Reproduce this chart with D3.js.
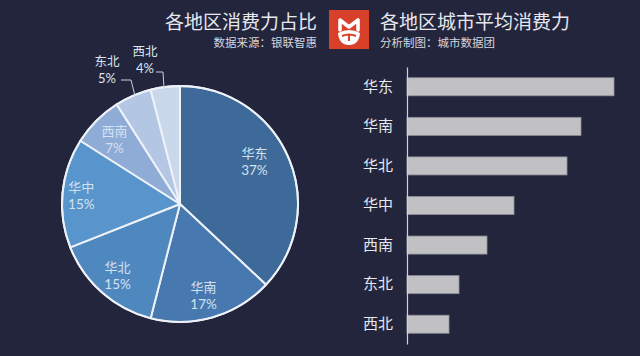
<!DOCTYPE html>
<html><head><meta charset="utf-8">
<script src="https://cdn.jsdelivr.net/npm/d3@7/dist/d3.min.js"></script>
<style>
html,body{margin:0;padding:0;background:#23253d;}
svg{display:block;font-family:"Noto Sans CJK SC","Noto Sans",sans-serif;}
</style></head>
<body>
<svg id="c" width="640" height="356"></svg>
<script>
const pieCategories = ["华东","华南","华北","华中","西南","东北","西北"];
const pieShares = [37,17,15,15,7,5,4];
const pieColors = ["#3e6a99","#4779b0","#4f87bf","#5895cc","#8facd6","#b3c7e4","#cad8ec"];
const barCategories = ["华东","华南","华北","华中","西南","东北","西北"];
const barValues = [207,174,160,107,80,52,42];

const svg = d3.select("#c");
svg.append("rect").attr("width",640).attr("height",356).attr("fill","#23253d");

// Titles
svg.append("text").attr("x",317).attr("y",29).attr("text-anchor","end")
  .attr("fill","#e6e8ef").attr("font-size",19).text("各地区消费力占比");
svg.append("text").attr("x",317).attr("y",47).attr("text-anchor","end")
  .attr("fill","#d4d6de").attr("font-size",11.5).text("数据来源：银联智惠");
svg.append("text").attr("x",380).attr("y",29).attr("text-anchor","start")
  .attr("fill","#e6e8ef").attr("font-size",19).text("各地区城市平均消费力");
svg.append("text").attr("x",380).attr("y",47).attr("text-anchor","start")
  .attr("fill","#d4d6de").attr("font-size",11.5).text("分析制图：城市数据团");

// Logo
const logo = svg.append("g").attr("transform","translate(329,10)");
logo.append("rect").attr("width",40).attr("height",39).attr("fill","#d8402a");
logo.append("path").attr("fill","none").attr("stroke","#fff").attr("stroke-width",3.6)
  .attr("stroke-linejoin","round").attr("stroke-linecap","round")
  .attr("d","M11,20 L11,10 L20,17 L29,10 L29,20");
logo.append("path").attr("fill","#fff")
  .attr("d","M9,23 Q20,17 31,23 Q30,35 20,35 Q10,35 9,23 Z");
logo.append("path").attr("fill","none").attr("stroke","#d8402a").attr("stroke-width",2)
  .attr("d","M13,26 Q20,23 27,26 M20,25 L20,31");

// Pie
const cx = 180, cy = 204, R = 118;
const pie = d3.pie().sort(null).value(d=>d)(pieShares);
const arc = d3.arc().innerRadius(0).outerRadius(R);
const pg = svg.append("g").attr("transform",`translate(${cx},${cy})`);
pg.selectAll("path.s").data(pie).join("path").attr("class","s")
  .attr("d",arc).attr("fill",(d,i)=>pieColors[i])
  .attr("stroke","#eef2f8").attr("stroke-width",2).attr("stroke-linejoin","round");
pg.append("circle").attr("r",R).attr("fill","none").attr("stroke","#eef2f8").attr("stroke-width",1.8);

const labelR = [0.73,0.80,0.80,0.84,0.785];
const labelShift = [-0.12,0.03,0,0,0];
pie.forEach((d,i)=>{
  if(i<5){
    const a=(d.startAngle+d.endAngle)/2+labelShift[i], r=R*labelR[i];
    const x=Math.sin(a)*r, y=-Math.cos(a)*r;
    pg.append("text").attr("text-anchor","middle").attr("fill","#d3e1f0").attr("font-size",13)
      .attr("x",x).attr("y",y-3).text(pieCategories[i]);
    pg.append("text").attr("text-anchor","middle").attr("fill","#d3e1f0").attr("font-size",13.5)
      .attr("font-family","Lato, sans-serif")
      .attr("x",x).attr("y",y+14).text(pieShares[i]+"%");
  }
});
// outside labels with leader lines
const outside = [
  {i:5, tx:107, ty:66, lx:[121,131,135], ly:[80,80,96]},
  {i:6, tx:145, ty:56, lx:[156,163,164], ly:[72,72,88]}
];
outside.forEach(o=>{
  svg.append("text").attr("text-anchor","middle").attr("fill","#dbe5f1").attr("font-size",12.5)
    .attr("x",o.tx).attr("y",o.ty).text(pieCategories[o.i]);
  svg.append("text").attr("text-anchor","middle").attr("fill","#dbe5f1").attr("font-size",13)
    .attr("font-family","Lato, sans-serif")
    .attr("x",o.tx).attr("y",o.ty+17).text(pieShares[o.i]+"%");
  svg.append("path").attr("fill","none").attr("stroke","#c9cfdc").attr("stroke-width",1)
    .attr("d",d3.line()(o.lx.map((x,k)=>[x,o.ly[k]])));
});

// Bars
const x0 = 407;
const xs = d3.scaleLinear().domain([0,207]).range([x0,614]);
const ys = d3.scaleBand().domain(barCategories).range([67,344]).paddingInner(0.544).paddingOuter(0.272);
svg.selectAll("rect.b").data(barValues).join("rect").attr("class","b")
  .attr("x",x0).attr("y",(d,i)=>ys(barCategories[i]))
  .attr("width",d=>xs(d)-x0).attr("height",ys.bandwidth())
  .attr("fill","#c1c1c4").attr("stroke","#8e8f98").attr("stroke-width",0.8);
const ax = svg.append("g").attr("transform",`translate(${x0},0)`)
  .call(d3.axisLeft(ys).tickSize(0).tickSizeOuter(0).tickPadding(14));
ax.select(".domain").attr("stroke","#cfd1da").attr("stroke-width",1.2);
ax.selectAll("text").attr("fill","#e6e8ef").attr("font-size",15)
  .attr("font-family","\"Noto Sans CJK SC\",sans-serif");
</script>
</body></html>
